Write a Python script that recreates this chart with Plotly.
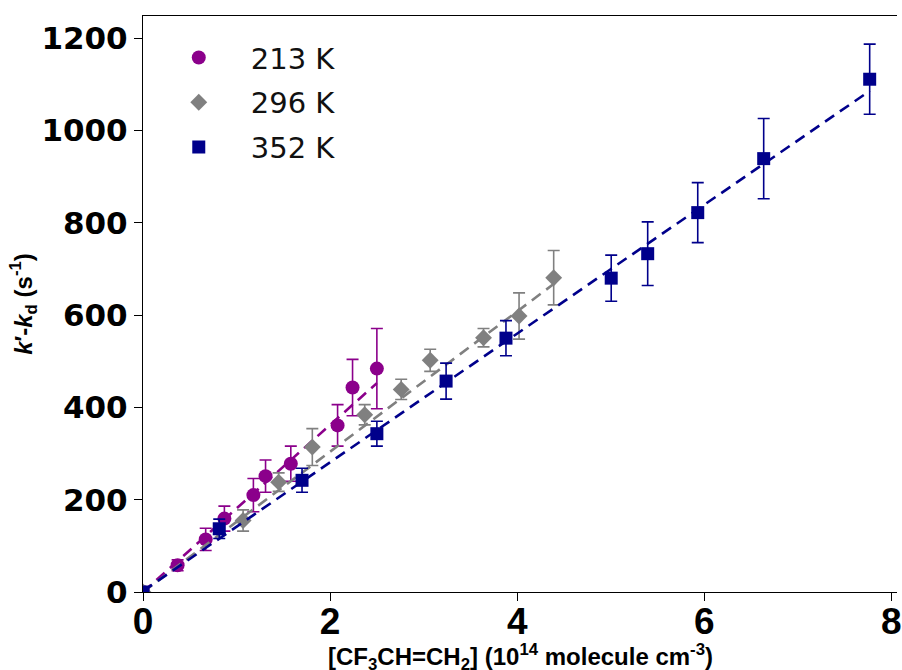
import plotly.graph_objects as go

# ---- data ----
x_213 = [0.0, 0.37, 0.67, 0.87, 1.18, 1.31, 1.58, 2.08, 2.24, 2.50]
y_213 = [0, 58, 114, 159, 210, 251, 278, 361, 443, 484]
e_213 = [0, 12, 24, 27, 36, 35, 38, 45, 61, 87]

x_296 = [0.0, 1.07, 1.45, 1.81, 2.37, 2.76, 3.07, 3.64, 4.02, 4.39]
y_296 = [0, 155, 238, 314, 384, 439, 502, 551, 598, 681]
e_296 = [0, 23, 20, 40, 22, 22, 24, 20, 50, 59]

x_352 = [0.0, 0.815, 1.70, 2.50, 3.24, 3.88, 5.005, 5.395, 5.93, 6.635, 7.768]
y_352 = [0, 137, 242, 343, 457, 550, 680, 733, 822, 939, 1111]
e_352 = [0, 21, 26, 27, 39, 38, 50, 69, 65, 87, 76]

# linear fits (slope, intercept, x extent)
fit_slope = [181, 152, 139.5]
fit_icpt = [0, 0, 2]
fit_xmax = [2.50, 4.40, 7.77]

labels = ["213 K", "296 K", "352 K"]
colors = ["#8B008B", "#808080", "#00008B"]
symbols = ["circle", "diamond", "square"]
sizes = [14, 13, 13]

xticks = [0, 2, 4, 6, 8]
yticks = [0, 200, 400, 600, 800, 1000, 1200]

fig = go.Figure()
series = [(x_213, y_213, e_213), (x_296, y_296, e_296), (x_352, y_352, e_352)]
for i, (xs, ys, es) in enumerate(series):
    fig.add_trace(go.Scatter(
        x=xs, y=ys, mode="markers", name=labels[i],
        legendgroup=labels[i],
        marker=dict(color=colors[i], symbol=symbols[i], size=sizes[i], line=dict(width=0)),
        error_y=dict(type="data", array=es, visible=True, color=colors[i],
                     thickness=1.6, width=6),
        cliponaxis=True,
    ))
    fx = [0, fit_xmax[i]]
    fy = [fit_icpt[i] + fit_slope[i] * v for v in fx]
    fig.add_trace(go.Scatter(
        x=fx, y=fy, mode="lines", showlegend=False, hoverinfo="skip",
        line=dict(color=colors[i], width=2.6, dash="11px,7px"),
    ))

fig.update_layout(
    width=902, height=670,
    margin=dict(l=143, r=0, t=16, b=78),
    paper_bgcolor="white", plot_bgcolor="white",
    showlegend=True,
    legend=dict(
        x=0.005, y=0.972, xanchor="left", yanchor="top",
        bgcolor="rgba(0,0,0,0)", borderwidth=0,
        font=dict(family="DejaVu Sans", size=29, color="#111111"),
        itemwidth=94, tracegroupgap=4,
    ),
    xaxis=dict(
        range=[0, 8.06], tickvals=xticks, ticktext=[str(v) for v in xticks],
        showgrid=False, zeroline=False,
        showline=True, linecolor="black", linewidth=1.2, mirror=True,
        ticks="outside", ticklen=8, tickwidth=1.2, tickcolor="black",
        ticklabeloverflow="allow", ticklabelstandoff=-12,
        tickfont=dict(family="Liberation Sans", size=37, color="black", weight="bold"),
    ),
    yaxis=dict(
        range=[0, 1248], tickvals=yticks, ticktext=[str(v) for v in yticks],
        showgrid=False, zeroline=False,
        showline=True, linecolor="black", linewidth=1.2,
        ticks="outside", ticklen=8, tickwidth=1.2, tickcolor="black",
        tickfont=dict(family="DejaVu Sans", size=31, color="black", weight="bold"),
        title=dict(
            text="<b><i>k</i>′-<i>k</i><sub>d</sub> (s<sup>-1</sup>)</b>",
            font=dict(family="Liberation Sans", size=24, color="black"),
            standoff=2,
        ),
    ),
    annotations=[dict(
        text="<b>[CF<sub>3</sub>CH=CH<sub>2</sub>] (10<sup>14</sup> molecule cm<sup>-3</sup>)</b>",
        xref="paper", yref="paper", x=0.5, y=-0.112,
        xanchor="center", yanchor="middle", showarrow=False,
        font=dict(family="Liberation Sans", size=24, color="black"),
    )],
)

fig.write_html("out.html", config={"displayModeBar": False},
               post_script="document.body.style.margin='0';document.body.style.overflow='hidden';")
